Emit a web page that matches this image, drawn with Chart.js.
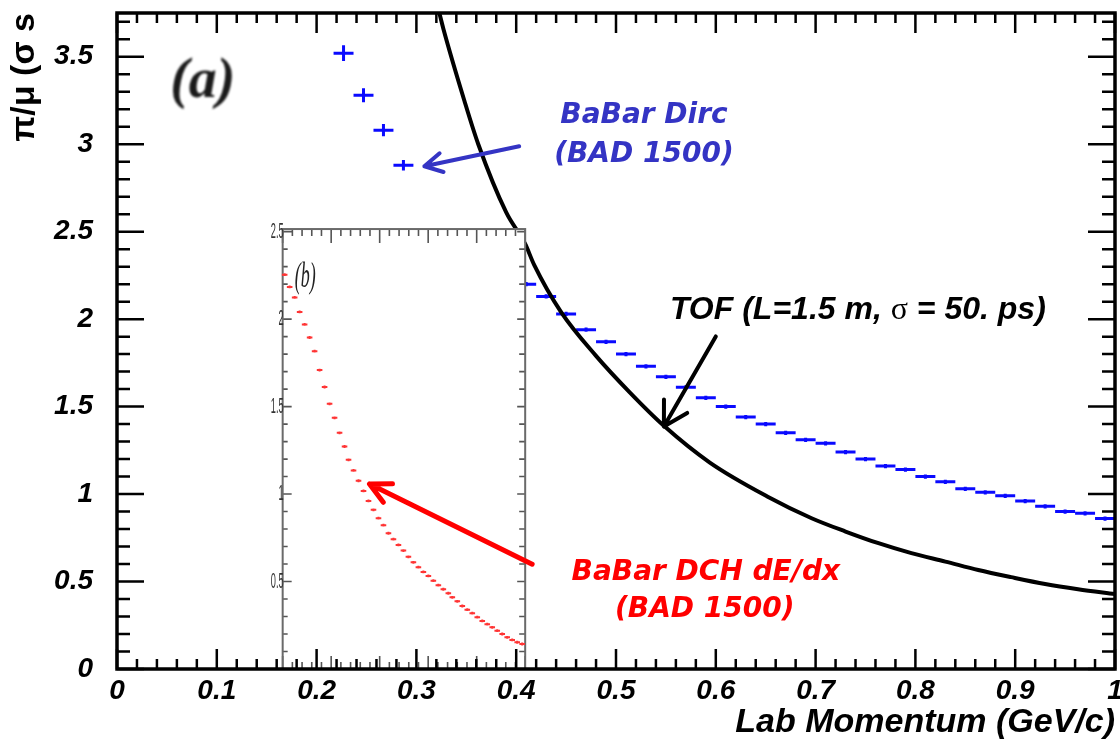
<!DOCTYPE html>
<html>
<head>
<meta charset="utf-8">
<title>pi/mu separation vs lab momentum</title>
<script src="https://cdn.jsdelivr.net/npm/chart.js@4.4.1/dist/chart.umd.min.js"></script>
<style>
  html, body { margin: 0; padding: 0; background: #fff; }
</style>
</head>
<body>
<canvas id="c" width="1120" height="744"></canvas>
<script>
// tick labels
var xTicks = [0, 0.1, 0.2, 0.3, 0.4, 0.5, 0.6, 0.7, 0.8, 0.9, 1];
var yTicks = [0, 0.5, 1, 1.5, 2, 2.5, 3, 3.5];
var insetYTicks = [0.5, 1, 1.5, 2, 2.5];

// TOF (L=1.5 m, sigma = 50 ps)
var tofP   = [0.323, 0.327, 0.348, 0.362, 0.390, 0.409, 0.418, 0.445, 0.480, 0.514, 0.548, 0.594,
              0.652, 0.696, 0.730, 0.763, 0.796, 0.830, 0.863, 0.896, 0.930, 0.963, 1.0];
var tofSep = [3.75, 3.66, 3.25, 3.00, 2.61, 2.43, 2.31, 2.04, 1.79, 1.58, 1.39, 1.18,
              0.985, 0.862, 0.786, 0.719, 0.662, 0.614, 0.566, 0.525, 0.486, 0.456, 0.428];

// BaBar Dirc (BAD 1500)
var dircP   = [0.227, 0.247, 0.267, 0.287,
               0.41, 0.43, 0.45, 0.47, 0.49, 0.51, 0.53, 0.55, 0.57, 0.59, 0.61, 0.63, 0.65, 0.67, 0.69,
               0.71, 0.73, 0.75, 0.77, 0.79, 0.81, 0.83, 0.85, 0.87, 0.89, 0.91, 0.93, 0.95, 0.97, 0.99];
var dircSep = [3.52, 3.28, 3.08, 2.88,
               2.20, 2.13, 2.03, 1.94, 1.87, 1.80, 1.73, 1.67, 1.61, 1.55, 1.50, 1.44, 1.40, 1.35, 1.31,
               1.29, 1.24, 1.20, 1.16, 1.14, 1.10, 1.07, 1.03, 1.01, 0.99, 0.96, 0.93, 0.90, 0.89, 0.86];
var dircErr = [0.045, 0.04, 0.035, 0.03,
               0.012, 0.012, 0.012, 0.012, 0.012, 0.012, 0.012, 0.012, 0.012, 0.012, 0.012, 0.012, 0.012, 0.012, 0.012,
               0.012, 0.012, 0.012, 0.012, 0.012, 0.012, 0.012, 0.012, 0.012, 0.012, 0.012, 0.012, 0.012, 0.012, 0.012];
var dircHalfBin = 0.01;

// BaBar DCH dE/dx (BAD 1500), inset (b)
var dchP   = [0.168, 0.173, 0.178, 0.183, 0.188, 0.193, 0.198, 0.203, 0.208, 0.213, 0.218, 0.223, 0.228,
              0.232, 0.237, 0.242, 0.247, 0.252, 0.257, 0.262, 0.267, 0.272, 0.277, 0.282, 0.287, 0.292,
              0.297, 0.302, 0.307, 0.312, 0.317, 0.322, 0.327, 0.332,
              0.336, 0.341, 0.346, 0.351, 0.356, 0.361, 0.366, 0.371, 0.376, 0.381, 0.386, 0.391, 0.396, 0.401, 0.406];
var dchSep = [2.254, 2.184, 2.124, 2.041, 1.970, 1.895, 1.817, 1.709, 1.612, 1.516, 1.436, 1.350, 1.272,
              1.196, 1.135, 1.076, 1.018, 0.961, 0.910, 0.862, 0.822, 0.776, 0.742, 0.709, 0.677, 0.641,
              0.610, 0.582, 0.555, 0.532, 0.505, 0.479, 0.456, 0.433,
              0.410, 0.387, 0.360, 0.339, 0.319, 0.296, 0.275, 0.256, 0.238, 0.219, 0.200, 0.181, 0.166, 0.153, 0.143];
var dchHalfBin = 0.0028;
var dchErr = 0.008;

function pts(xs, ys) {
  return xs.map(function (x, i) { return { x: x, y: ys[i] }; });
}

// inset frame in main-axis units; its own x axis runs 0.15 .. 0.40
var insetBox = { left: 0.166, right: 0.409, top: 2.515, v0: 0.15, v1: 0.40 };

var blueTxt = '#3434c4';
var redTxt = '#ff0000';
var notes = [
  { text: 'BaBar Dirc', x: 0.528, y: 3.124, color: blueTxt, font: 'italic bold 28px "DejaVu Sans"' },
  { text: '(BAD 1500)', x: 0.528, y: 2.900, color: blueTxt, font: 'italic bold 28px "DejaVu Sans"' },
  { text: 'BaBar DCH dE/dx', x: 0.590, y: 0.509, color: redTxt, font: 'italic bold 28px "DejaVu Sans"' },
  { text: '(BAD 1500)', x: 0.589, y: 0.297, color: redTxt, font: 'italic bold 28px "DejaVu Sans"' }
];
// TOF label pieces: the sigma is upright, the rest bold italic
var tofLabel = { x: 0.554, y: 2.002, parts: [
  { text: 'TOF (L=1.5 m, ', font: 'italic bold 32px "Liberation Sans"' },
  { text: '\u03c3', font: '32px "Liberation Serif"' },
  { text: ' = 50. ps)', font: 'italic bold 32px "Liberation Sans"' }
] };
var arrows = [
  { x1: 0.403, y1: 2.988, x2: 0.308, y2: 2.874, color: blueTxt, width: 4, head: 20, ang: 0.5 },
  { x1: 0.600, y1: 1.901, x2: 0.548, y2: 1.386, color: '#000', width: 4, head: 27, ang: 0.52 },
  { x1: 0.416, y1: 0.599, x2: 0.253, y2: 1.058, color: redTxt, width: 5, head: 23, ang: 0.47 }
];

var bgPlugin = {
  id: 'bg',
  beforeDraw: function (chart) {
    var ctx = chart.ctx;
    ctx.save();
    ctx.fillStyle = '#fff';
    ctx.fillRect(0, 0, chart.width, chart.height);
    ctx.restore();
  }
};

// error bars (crosses / dashes) for the scatter series
var errPlugin = {
  id: 'errbars',
  afterDatasetDraw: function (chart, args) {
    var ds = chart.data.datasets[args.index];
    if (ds.halfBin === undefined) return;
    var ctx = chart.ctx, xs = chart.scales.x, ys = chart.scales.y, a = chart.chartArea;
    ctx.save();
    ctx.beginPath();
    ctx.rect(a.left, a.top, a.right - a.left, a.bottom - a.top);
    ctx.clip();
    ctx.strokeStyle = ds.borderColor;
    ctx.lineWidth = ds.borderWidth;
    ds.data.forEach(function (p, i) {
      var ey = Array.isArray(ds.yErr) ? ds.yErr[i] : ds.yErr;
      var X = xs.getPixelForValue(p.x), Y = ys.getPixelForValue(p.y);
      ctx.beginPath();
      ctx.moveTo(xs.getPixelForValue(p.x - ds.halfBin), Y);
      ctx.lineTo(xs.getPixelForValue(p.x + ds.halfBin), Y);
      ctx.moveTo(X, ys.getPixelForValue(p.y - ey));
      ctx.lineTo(X, ys.getPixelForValue(p.y + ey));
      ctx.stroke();
    });
    ctx.restore();
  }
};

// inset (b) box, drawn just before the dE/dx points
var insetPlugin = {
  id: 'inset',
  beforeDatasetDraw: function (chart, args) {
    var ds = chart.data.datasets[args.index];
    if (!ds.inset) return;
    var ctx = chart.ctx, xs = chart.scales.x, ys = chart.scales.y;
    var xl = xs.getPixelForValue(insetBox.left), xr = xs.getPixelForValue(insetBox.right);
    var yt = ys.getPixelForValue(insetBox.top), yb = ys.getPixelForValue(0);
    var kx = (insetBox.right - insetBox.left) / (insetBox.v1 - insetBox.v0);
    var i, X, Y, major;
    ctx.save();
    ctx.fillStyle = '#fff';
    ctx.fillRect(xl, yt, xr - xl, yb - yt);
    ctx.strokeStyle = '#555';
    ctx.lineWidth = 1.6;
    ctx.beginPath();
    for (i = 0; i <= 25; i++) {
      X = xs.getPixelForValue(insetBox.left + i * 0.01 * kx);
      major = i % 5 === 0;
      ctx.moveTo(X, yt); ctx.lineTo(X, yt + (major ? 14 : 7));
      ctx.moveTo(X, yb); ctx.lineTo(X, yb - (major ? 13 : 7));
    }
    for (i = 0; i <= 25; i++) {
      Y = ys.getPixelForValue(i * 0.1);
      major = i % 5 === 0;
      ctx.moveTo(xl, Y); ctx.lineTo(xl + (major ? 9 : 5), Y);
      ctx.moveTo(xr, Y); ctx.lineTo(xr - (major ? 8 : 6), Y);
    }
    ctx.stroke();
    ctx.strokeStyle = '#6a6a6a';
    ctx.lineWidth = 2;
    ctx.strokeRect(xl, yt, xr - xl, yb - yt);
    // squeezed inset labels
    ctx.fillStyle = '#333';
    ctx.font = '22px "Liberation Sans"';
    ctx.textAlign = 'right';
    ctx.textBaseline = 'middle';
    insetYTicks.forEach(function (v) {
      ctx.save();
      ctx.translate(xl + 1, ys.getPixelForValue(v));
      ctx.scale(0.42, 1);
      ctx.fillText(String(v), 0, 0);
      ctx.restore();
    });
    ctx.save();
    ctx.translate(xs.getPixelForValue(0.178), ys.getPixelForValue(2.185));
    ctx.scale(0.5, 1);
    ctx.font = 'italic 36px "Liberation Serif"';
    ctx.textAlign = 'left';
    ctx.textBaseline = 'alphabetic';
    ctx.fillStyle = '#222';
    ctx.fillText('(b)', 0, 0);
    ctx.restore();
    ctx.restore();
  }
};

// ROOT style frame with inner ticks on four sides, plus the annotations
var framePlugin = {
  id: 'frame',
  afterDatasetsDraw: function (chart) {
    var ctx = chart.ctx, xs = chart.scales.x, ys = chart.scales.y, a = chart.chartArea;
    var i, X, Y, major;
    ctx.save();
    ctx.strokeStyle = '#000';
    ctx.lineWidth = 2.5;
    ctx.beginPath();
    for (i = 0; i <= 50; i++) {
      X = xs.getPixelForValue(i * 0.02);
      major = i % 5 === 0;
      ctx.moveTo(X, a.bottom); ctx.lineTo(X, a.bottom - (major ? 20 : 10));
      ctx.moveTo(X, a.top); ctx.lineTo(X, a.top + (major ? 20 : 10));
    }
    for (i = 0; i <= 37; i++) {
      Y = ys.getPixelForValue(i * 0.1);
      major = i % 5 === 0;
      ctx.moveTo(a.left, Y); ctx.lineTo(a.left + (major ? 27 : 13), Y);
      ctx.moveTo(a.right, Y); ctx.lineTo(a.right - (major ? 27 : 13), Y);
    }
    ctx.stroke();
    ctx.lineWidth = 3.5;
    ctx.strokeRect(a.left, a.top, a.right - a.left, a.bottom - a.top);

    // (a)
    ctx.save();
    ctx.filter = 'blur(0.8px)';
    ctx.fillStyle = '#1a1a1a';
    ctx.font = 'italic bold 56px "Liberation Serif"';
    ctx.textAlign = 'center';
    ctx.textBaseline = 'alphabetic';
    ctx.fillText('(a)', xs.getPixelForValue(0.086), ys.getPixelForValue(3.272));
    ctx.restore();

    ctx.textAlign = 'center';
    ctx.textBaseline = 'alphabetic';
    notes.forEach(function (n) {
      ctx.fillStyle = n.color;
      ctx.font = n.font;
      ctx.fillText(n.text, xs.getPixelForValue(n.x), ys.getPixelForValue(n.y));
    });

    ctx.textAlign = 'left';
    ctx.fillStyle = '#000';
    var tx = xs.getPixelForValue(tofLabel.x), ty = ys.getPixelForValue(tofLabel.y);
    tofLabel.parts.forEach(function (p) {
      ctx.font = p.font;
      ctx.fillText(p.text, tx, ty);
      tx += ctx.measureText(p.text).width;
    });

    ctx.lineCap = 'round';
    ctx.lineJoin = 'round';
    arrows.forEach(function (r) {
      var x1 = xs.getPixelForValue(r.x1), y1 = ys.getPixelForValue(r.y1);
      var x2 = xs.getPixelForValue(r.x2), y2 = ys.getPixelForValue(r.y2);
      var t = Math.atan2(y1 - y2, x1 - x2);
      ctx.strokeStyle = r.color;
      ctx.lineWidth = r.width;
      ctx.beginPath();
      ctx.moveTo(x1, y1); ctx.lineTo(x2, y2);
      ctx.moveTo(x2 + r.head * Math.cos(t + r.ang), y2 + r.head * Math.sin(t + r.ang));
      ctx.lineTo(x2, y2);
      ctx.lineTo(x2 + r.head * Math.cos(t - r.ang), y2 + r.head * Math.sin(t - r.ang));
      ctx.stroke();
    });
    ctx.restore();
  }
};

var tickFont = { family: 'Liberation Sans', size: 28, style: 'italic', weight: 'bold' };

new Chart(document.getElementById('c'), {
  type: 'scatter',
  data: {
    datasets: [
      { label: 'BaBar DCH dE/dx', data: pts(dchP, dchSep), pointRadius: 0, borderColor: '#ff3434',
        borderWidth: 2, halfBin: dchHalfBin, yErr: dchErr, inset: true, order: 0 },
      { label: 'TOF', data: pts(tofP, tofSep), showLine: true, pointRadius: 0, borderColor: '#000',
        borderWidth: 4, cubicInterpolationMode: 'monotone', fill: false, order: 1 },
      { label: 'BaBar Dirc', data: pts(dircP, dircSep), pointRadius: 0, borderColor: '#0a0aff',
        borderWidth: 3, halfBin: dircHalfBin, yErr: dircErr, order: 2 }
    ]
  },
  options: {
    responsive: false,
    animation: false,
    layout: { padding: { left: 0, right: 5, top: 13, bottom: 0 }, autoPadding: false },
    plugins: { legend: { display: false }, tooltip: { enabled: false } },
    scales: {
      x: {
        type: 'linear', min: 0, max: 1,
        afterBuildTicks: function (s) { s.ticks = xTicks.map(function (v) { return { value: v }; }); },
        afterFit: function (s) { s.height = 75; s.paddingLeft = 0; s.paddingRight = 0; },
        grid: { display: false, drawTicks: false },
        border: { display: false },
        ticks: { padding: 5, autoSkip: false, maxRotation: 0, color: '#000', font: tickFont,
                 callback: function (v) { return String(v); } },
        title: { display: true, text: 'Lab Momentum (GeV/c)', align: 'end', color: '#000',
                 font: { family: 'Liberation Sans', size: 34, style: 'italic', weight: 'bold' },
                 padding: { top: 0, bottom: 1 } }
      },
      y: {
        type: 'linear', min: 0, max: 3.75,
        afterBuildTicks: function (s) { s.ticks = yTicks.map(function (v) { return { value: v }; }); },
        afterFit: function (s) { s.width = 117; s.paddingTop = 0; s.paddingBottom = 0; },
        grid: { display: false, drawTicks: false },
        border: { display: false },
        ticks: { padding: 24, color: '#000', font: tickFont,
                 callback: function (v) { return String(v); } },
        title: { display: true, text: '\u03c0/\u03bc (\u03c3 s', align: 'end', color: '#000',
                 font: { family: 'Liberation Sans', size: 34, weight: 'bold' },
                 padding: { top: 4, bottom: 0 } }
      }
    }
  },
  plugins: [bgPlugin, errPlugin, insetPlugin, framePlugin]
});
</script>
</body>
</html>
